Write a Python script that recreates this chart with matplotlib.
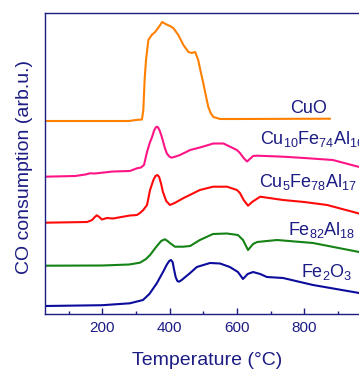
import matplotlib
matplotlib.use("Agg")
import matplotlib.pyplot as plt
from matplotlib.ticker import FixedLocator

plt.rcParams['font.family'] = ['Liberation Sans', 'DejaVu Sans']
plt.rcParams['mathtext.default'] = 'regular'

NAVY = '#1c1c84'

# CO-TPR traces: temperature (°C) and stacked signal (arb. u.)
cuo_T = [30, 280, 300, 318, 322, 326, 330, 337, 347, 357, 366, 378, 388, 401, 411, 426,
         441, 456, 466, 476, 485, 492, 500, 508, 515, 522, 530, 550, 600, 876]
cuo_y = [193, 193, 194, 194.5, 204, 235, 254, 274, 279, 282, 286, 292, 290, 288, 286, 279,
         269, 262, 261, 262, 254, 243, 231, 218, 207, 201, 197, 195, 195, 195.3]

cu10_T = [30, 120, 150, 164, 178, 232, 282, 303, 315, 324, 333, 341, 348, 354, 359, 362, 366,
          371, 377, 386, 392, 399, 406, 418, 431, 451, 461, 490, 530, 560, 600, 609, 620, 630,
          640, 648, 660, 700, 737, 800, 885, 960, 1000]
cu10_y = [137.3, 138, 139.5, 140.7, 140.5, 142.5, 143, 145.7, 146.5, 149, 162, 171, 177, 183.5,
          186.5, 187.3, 186.5, 183, 177, 166, 160.5, 157.5, 156.3, 157.5, 159, 162.3, 164, 166.5,
          170.5, 170.5, 164, 161, 156, 152.5, 155.5, 158, 158.3, 157.8, 157.3, 156, 154, 147.3, 144]

cu5_T = [30, 155, 170, 178, 184, 191, 199, 214, 232, 282, 303, 312, 322, 333, 342, 352,
         358, 364, 369, 375, 380, 390, 401, 415, 440, 490, 529, 571, 600, 609, 620, 633,
         645, 669, 737, 800, 868, 957, 1000]
cu5_y = [91.3, 92, 94, 97, 98.7, 97, 94.5, 96, 95.5, 98.5, 99, 101, 104, 109, 124, 134,
         138, 139, 137, 130, 122.3, 113, 109, 111, 115.7, 124, 127.3, 127.3, 124, 121, 114, 108.3,
         112, 117.3, 114, 112, 109, 101, 97]

fe82_T = [30, 200, 280, 312, 330, 342, 360, 375, 386, 394, 401, 416, 440, 461, 490, 529,
          570, 603, 618, 633, 648, 660, 719, 826, 963, 1000]
fe82_y = [48.3, 48.5, 49.5, 51.3, 55, 59, 67, 73, 74.7, 73, 71, 67.3, 67.3, 68, 74, 80,
          80.5, 79, 74, 64, 70, 72, 74, 71, 62, 60]

fe2o3_T = [30, 200, 282, 321, 340, 362, 381, 392, 399, 404, 409, 413, 418, 423, 428, 436,
           461, 481, 520, 550, 579, 603, 618, 632, 648, 669, 689, 737, 826, 963, 1000]
fe2o3_y = [8, 8.8, 10.7, 14, 20, 30.7, 42.3, 49.5, 53, 54, 52, 45, 37, 33, 32.3, 34,
           41, 47, 51, 50.5, 47, 42, 35, 40, 42, 40, 37, 36, 29, 21, 19]

series = [
    (cuo_T, cuo_y, '#ff8000', 'CuO', 758, 201),
    (cu10_T, cu10_y, '#ff1485', r'Cu$_{10}$Fe$_{74}$Al$_{16}$', 669, 170),
    (cu5_T, cu5_y, '#ff0a0a', r'Cu$_{5}$Fe$_{78}$Al$_{17}$', 667, 127.5),
    (fe82_T, fe82_y, '#148214', r'Fe$_{82}$Al$_{18}$', 752, 79),
    (fe2o3_T, fe2o3_y, '#0c0c9c', r'Fe$_{2}$O$_{3}$', 789, 37),
]

major_ticks = [200, 400, 600, 800]
minor_ticks = [100, 300, 500, 700, 900]

fig = plt.figure(figsize=(3.59, 3.70), dpi=100)
ax = fig.add_axes([45 / 359, 56 / 370, 326.6 / 359, 301 / 370])

for T, y, color, name, lx, ly in series:
    ax.plot(T, y, color=color, lw=1.5, solid_joinstyle='round')
    ax.text(lx, ly, name, color=NAVY, fontsize=13, ha='left', va='baseline')

ax.set_xlim(30, 1000)
ax.set_ylim(0, 301)
ax.set_yticks([])
ax.xaxis.set_major_locator(FixedLocator(major_ticks))
ax.xaxis.set_minor_locator(FixedLocator(minor_ticks))
ax.tick_params(axis='x', which='major', direction='in', length=4.5, width=1,
               color=NAVY, labelcolor=NAVY, labelsize=11, pad=5)
ax.tick_params(axis='x', which='minor', direction='in', length=2.5, width=1, color=NAVY)
for s in ax.spines.values():
    s.set_color(NAVY)
    s.set_linewidth(1.0)

ax.set_xlabel('Temperature (°C)', fontsize=14, color=NAVY, va='baseline')
ax.xaxis.set_label_coords(162 / 326.6, -51 / 301)
ax.set_ylabel('CO consumption (arb.u.)', fontsize=14, color=NAVY, va='center')
ax.yaxis.set_label_coords(-20 / 326.6, 147 / 301)

fig.savefig('out.png', dpi=100)
